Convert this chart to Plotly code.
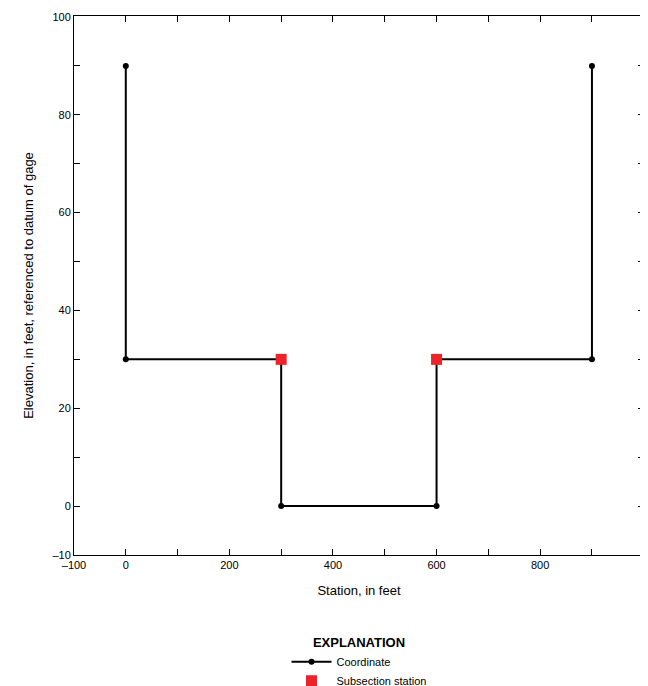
import plotly.graph_objects as go

# cross-section coordinates
station = [0, 0, 300, 300, 600, 600, 900, 900]
elevation = [90, 30, 30, 0, 0, 30, 30, 90]

# subsection stations
sub_station = [300, 600]
sub_elev = [30, 30]

x_ticks = list(range(-100, 1001, 100))
x_labels = ["\u2013100", "0", "", "200", "", "400", "", "600", "", "800", "", "1,000"]
y_ticks = list(range(-10, 101, 10))
y_labels = ["\u201310", "0", "", "20", "", "40", "", "60", "", "80", "", "100"]

font = "Liberation Sans Narrow, Arial Narrow, sans-serif"

fig = go.Figure()
fig.add_trace(go.Scatter(
    x=station, y=elevation, mode="lines+markers", name="Coordinate",
    line=dict(color="black", width=2), marker=dict(color="black", size=6),
))
fig.add_trace(go.Scatter(
    x=sub_station, y=sub_elev, mode="markers", name="Subsection station",
    marker=dict(color="#ee2229", size=11, symbol="square"),
))

axis_common = dict(
    showgrid=False, zeroline=False, showline=True, linecolor="black", linewidth=1,
    mirror="ticks", ticks="inside", ticklen=6, tickcolor="black",
    tickfont=dict(size=11, color="black"), automargin=False,
)
fig.update_xaxes(range=[-100, 1000.5], tickvals=x_ticks, ticktext=x_labels,
                 title=dict(text="Station, in feet", font=dict(size=13, color="black")),
                 **axis_common)
fig.update_yaxes(range=[-10, 100.2], tickvals=y_ticks, ticktext=y_labels,
                 title=dict(text="Elevation, in feet, referenced to datum of gage",
                            font=dict(size=13, color="black")),
                 **axis_common)

fig.update_layout(
    width=648, height=686,
    margin=dict(l=66, r=12, t=8, b=139, autoexpand=False),
    plot_bgcolor="white", paper_bgcolor="white",
    font=dict(family=font, color="black"),
    legend=dict(
        orientation="v", x=0.5, xanchor="center", y=-0.14, yanchor="top",
        title=dict(text="<b>EXPLANATION</b>", side="top center", font=dict(size=13)),
        font=dict(size=11), itemwidth=40, tracegroupgap=0,
    ),
)

fig.write_html("out.html")
